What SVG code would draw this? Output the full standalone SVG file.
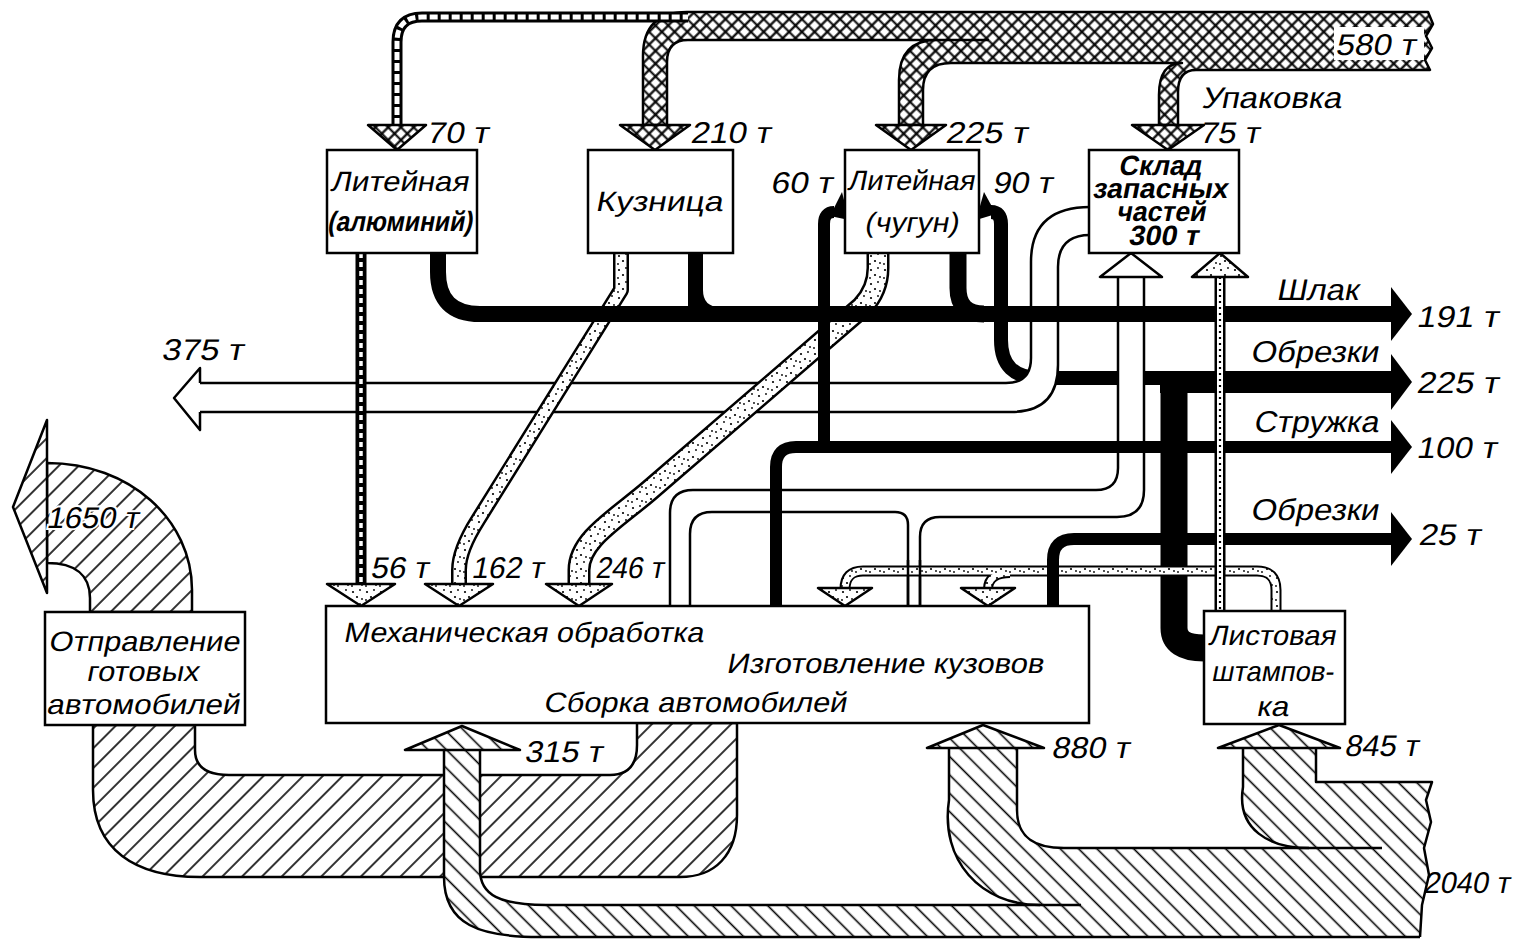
<svg xmlns="http://www.w3.org/2000/svg" width="1524" height="941" viewBox="0 0 1524 941">
<defs>
<pattern id="xh" width="9" height="9" patternUnits="userSpaceOnUse" patternTransform="rotate(45)">
<rect width="9" height="9" fill="#fff"/>
<path d="M0,4.5H9M4.5,0V9" stroke="#000" stroke-width="2.2"/>
</pattern>
<pattern id="hb" width="13" height="13" patternUnits="userSpaceOnUse" patternTransform="rotate(-45)">
<rect width="13" height="13" fill="#fff"/>
<path d="M6.5,0V13" stroke="#000" stroke-width="1.6"/>
</pattern>
<pattern id="hf" width="14" height="14" patternUnits="userSpaceOnUse" patternTransform="rotate(45)">
<rect width="14" height="14" fill="#fff"/>
<path d="M7,0V14" stroke="#000" stroke-width="1.6"/>
</pattern>
<pattern id="st" width="14" height="14" patternUnits="userSpaceOnUse">
<rect width="14" height="14" fill="#fff"/>
<circle cx="3" cy="4" r="1.1"/><circle cx="10" cy="2" r="0.9"/><circle cx="7" cy="9" r="1.1"/><circle cx="12" cy="11" r="0.9"/><circle cx="2" cy="12" r="0.9"/>
</pattern>
<style>
.ol{fill:none;stroke:#000;stroke-width:2.5;stroke-linejoin:round}
.bk{fill:none;stroke:#000;stroke-linecap:butt}
.wd{fill:none;stroke:#fff;stroke-linecap:butt}
.box{fill:#fff;stroke:#000;stroke-width:2.5}
.xh{fill:url(#xh);stroke:#000;stroke-width:2.5;stroke-linejoin:round}
.hb{fill:url(#hb);stroke:#000;stroke-width:2.5;stroke-linejoin:round}
.hf{fill:url(#hf);stroke:#000;stroke-width:2.5;stroke-linejoin:round}
.sth{fill:url(#st);stroke:#000;stroke-width:2.5;stroke-linejoin:round}
.wh{fill:#fff;stroke:#000;stroke-width:2.5;stroke-linejoin:round}
.stp{fill:none;stroke:url(#st)}
.t,.b{font-family:"Liberation Sans",Arial,sans-serif;fill:#000;transform:skewX(-11deg);transform-box:fill-box;transform-origin:50% 50%}
.t{font-size:30px}
.b{font-size:28px}
</style>
</defs>
<rect width="1524" height="941" fill="#fff"/>

<g id="connectors">
<!-- top packaging band 580 t -->
<path class="xh" d="M643,125 L643,56 Q643,12 687,12 L1428,12 L1433,24 L1426,36 L1432,48 L1425,60 L1430,70 L1196,70 Q1178,70 1178,92 L1178,125 L1159,125 L1159,95 Q1159,63 1182,63 L951,63 Q923,63 923,90 L923,125 L899,125 L899,80 Q899,40 937,40 L688,40 Q667,40 667,62 L667,125 Z"/>
<path class="ol" d="M937,40 H989"/>
<path class="bk" d="M397,126 V42 Q397,17 422,17 H688" stroke-width="11"/>
<path class="wd" d="M397,126 V42 Q397,17 422,17 H688" stroke-width="5" stroke-dasharray="8 3"/>
<polygon class="xh" points="368,125 426,125 397,150"/>
<polygon class="xh" points="620,125 690,125 655,150"/>
<polygon class="xh" points="876,125 946,125 911,150"/>
<polygon class="xh" points="1132,125 1204,125 1168,150"/>
<rect x="1334" y="27" width="90" height="33" fill="#fff"/>

<!-- scrap line under white bands, with 90 t return -->
<path class="bk" d="M1168,378 H1040 Q1001,378 1001,340 V224 Q1001,212 991,212" stroke-width="14"/>
<polygon points="976,220 996,214 984,192"/>

<!-- white band 375 t from warehouse -->
<path fill="#fff" d="M1090,207 Q1031,207 1031,262 L1031,358 Q1031,383 1006,383 L200,383 L200,412 L1011,412 Q1058,412 1058,365 L1058,267 Q1058,235 1090,235 Z"/>
<path class="ol" d="M1090,207 Q1031,207 1031,262 L1031,358 Q1031,383 1006,383 L200,383"/>
<path class="ol" d="M1090,235 Q1058,235 1058,267 L1058,365 Q1058,412 1011,412 L200,412"/>
<path class="wh" d="M200,383 L200,368 L174,398 L200,430 L200,412"/>

<!-- white band machining to warehouse -->
<path fill="#fff" d="M670,606 L670,513 Q670,490 693,490 L1096,490 Q1118,490 1118,468 L1118,277 L1144,277 L1144,490 Q1144,517 1117,517 L940,517 Q920,517 920,537 L920,606 L908,606 L908,525 Q908,512 895,512 L712,512 Q690,512 690,534 L690,606 Z"/>
<path class="ol" d="M670,606 L670,513 Q670,490 693,490 L1096,490 Q1118,490 1118,468 L1118,277"/>
<path class="ol" d="M1144,277 L1144,490 Q1144,517 1117,517 L940,517 Q920,517 920,537 L920,606"/>
<path class="ol" d="M908,606 L908,525 Q908,512 895,512 L712,512 Q690,512 690,534 L690,606"/>
<polygon class="wh" points="1100,277 1162,277 1131,253"/>

<!-- dotted part flows to machining -->
<path class="bk" d="M361,253 V585" stroke-width="11"/>
<path class="wd" d="M361,253 V585" stroke-width="3.5" stroke-dasharray="5 4"/>
<polygon class="sth" points="327,584 395,584 361,606"/>
<path class="bk" d="M621,253 V290 L478,520 Q459,550 459,570 V585" stroke-width="16" stroke-linejoin="round"/>
<path class="stp" d="M621,250 V290 L478,520 Q459,550 459,570 V586" stroke-width="11" stroke-linejoin="round"/>
<polygon class="sth" points="425,584 493,584 459,606"/>
<path class="bk" d="M878,253 V268 Q878,290 862,307 L650,490 C615,520 579,540 579,570 V585" stroke-width="23" stroke-linejoin="round"/>
<path class="stp" d="M878,250 V268 Q878,290 862,307 L650,490 C615,520 579,540 579,570 V586" stroke-width="18" stroke-linejoin="round"/>
<polygon class="sth" points="546,584 612,584 579,606"/>

<!-- black waste lines -->
<path class="bk" d="M438,253 V272 Q438,314 480,314 H1395" stroke-width="16"/>
<polygon points="1391,287 1412,314 1391,341"/>
<rect x="688" y="252" width="15" height="56"/>
<path d="M703,290 Q703,307 720,307 H703 Z"/>
<path class="bk" d="M958,253 V288 Q958,314 984,314" stroke-width="17"/>
<path class="bk" d="M824,453 V224 Q824,212 834,212" stroke-width="12"/>
<polygon points="830,216 849,220 842,192"/>
<path class="bk" d="M1160,382 H1395" stroke-width="22"/>
<polygon points="1391,354 1412,382 1391,410"/>
<path class="bk" d="M1174,371 V628 Q1174,648 1204,648" stroke-width="27"/>
<path class="bk" d="M776,606 V467 Q776,447 796,447 H1395" stroke-width="12"/>
<polygon points="1391,420 1412,447 1391,474"/>

<!-- dotted stamping flows -->
<path class="bk" d="M1010,573 Q988,573 988,589" stroke-width="10"/>
<path class="bk" d="M1276,611 V590 Q1276,571 1257,571 H863 Q845,571 845,589" stroke-width="11"/>
<path class="stp" d="M1010,573 Q988,573 988,590" stroke-width="6"/>
<path class="stp" d="M1276,613 V590 Q1276,571 1257,571 H863 Q845,571 845,590" stroke-width="7"/>
<polygon class="sth" points="818,588 872,588 845,606"/>
<polygon class="sth" points="961,588 1015,588 988,606"/>
<path class="ol" d="M908,606 V560 M920,606 V560"/>

<path class="bk" d="M1053,606 V560 Q1053,539 1074,539 H1395" stroke-width="12"/>
<polygon points="1391,512 1412,539 1391,566"/>

<path class="bk" d="M1220,277 V611" stroke-width="11"/>
<path class="wd" d="M1220,277 V611" stroke-width="6"/>
<path class="bk" d="M1220,277 V611" stroke-width="2.2" stroke-dasharray="2 4"/>
<polygon class="sth" points="1192,277 1248,277 1220,253"/>

<!-- finished cars 1650 t -->
<path class="hf" d="M637,723 L737,723 L737,815 C737,855 715,877 680,877 L200,877 C135,877 93,850 93,790 L93,725 L195,725 L195,750 C195,768 208,775 229,775 L610,775 C628,775 637,765 637,745 Z"/>
<path class="hf" d="M90,612 L90,598 C90,575 75,563 47,563 L47,463 C130,463 192,520 192,590 L192,612 Z"/>
<polygon class="hf" points="47,420 47,593 13,507"/>

<!-- input 2040 t -->
<path fill="url(#hb)" d="M444,750 L480,750 L480,870 C480,895 500,905 546,905 L1040,905 C980,905 940,860 949,800 L949,748 L1017,748 L1017,810 C1017,838 1035,848 1064,848 L1309,848 C1270,848 1236,830 1243,787 L1243,748 L1316,748 L1316,782 L1432,782 L1426,800 L1431,822 L1424,848 L1429,875 L1422,905 L1420,937 L540,937 C480,937 444,925 444,877 Z"/>
<path class="ol" d="M444,750 V877 C444,925 480,937 540,937 H1420"/>
<path class="ol" d="M480,750 V870 C480,895 500,905 546,905 H1081"/>
<path class="ol" d="M949,748 V800 C940,860 980,905 1040,905"/>
<path class="ol" d="M1017,748 V810 C1017,838 1035,848 1064,848 H1382"/>
<path class="ol" d="M1243,748 V787 C1236,830 1270,848 1309,848"/>
<path class="ol" d="M1316,748 V782 H1432 L1426,800 L1431,822 L1424,848 L1429,875 L1422,905 L1420,937"/>
<polygon class="hb" points="405,750 520,750 462,726"/>
<polygon class="hb" points="927,748 1044,748 983,725"/>
<polygon class="hb" points="1218,748 1340,748 1279,725"/>

<!-- flow labels -->
<text class="t" x="1337" y="55" textLength="80" lengthAdjust="spacingAndGlyphs" font-size="28">580 т</text>
<text class="t" x="1203" y="108" textLength="140" lengthAdjust="spacingAndGlyphs">Упаковка</text>
<text class="t" x="1201" y="143" textLength="60" lengthAdjust="spacingAndGlyphs">75 т</text>
<text class="t" x="428" y="143" textLength="62" lengthAdjust="spacingAndGlyphs">70 т</text>
<text class="t" x="692" y="143" textLength="80" lengthAdjust="spacingAndGlyphs">210 т</text>
<text class="t" x="947" y="143" textLength="82" lengthAdjust="spacingAndGlyphs">225 т</text>
<text class="t" x="772" y="193" textLength="62" lengthAdjust="spacingAndGlyphs">60 т</text>
<text class="t" x="994" y="193" textLength="60" lengthAdjust="spacingAndGlyphs">90 т</text>
<text class="t" x="1278" y="300" textLength="82" lengthAdjust="spacingAndGlyphs">Шлак</text>
<text class="t" x="1418" y="327" textLength="82" lengthAdjust="spacingAndGlyphs">191 т</text>
<text class="t" x="163" y="360" textLength="82" lengthAdjust="spacingAndGlyphs">375 т</text>
<text class="t" x="1252" y="362" textLength="128" lengthAdjust="spacingAndGlyphs">Обрезки</text>
<text class="t" x="1418" y="393" textLength="82" lengthAdjust="spacingAndGlyphs">225 т</text>
<text class="t" x="1255" y="432" textLength="125" lengthAdjust="spacingAndGlyphs">Стружка</text>
<text class="t" x="1418" y="458" textLength="80" lengthAdjust="spacingAndGlyphs">100 т</text>
<text class="t" x="1252" y="520" textLength="128" lengthAdjust="spacingAndGlyphs">Обрезки</text>
<text class="t" x="1420" y="545" textLength="62" lengthAdjust="spacingAndGlyphs">25 т</text>
<text class="t" x="372" y="578" textLength="58" lengthAdjust="spacingAndGlyphs">56 т</text>
<text class="t" x="473" y="578" textLength="72" lengthAdjust="spacingAndGlyphs">162 т</text>
<text class="t" x="597" y="578" textLength="68" lengthAdjust="spacingAndGlyphs">246 т</text>
<text class="t" x="48" y="528" textLength="92" lengthAdjust="spacingAndGlyphs" font-size="27" stroke="#fff" stroke-width="4" paint-order="stroke">1650 т</text>
<text class="t" x="526" y="762" textLength="78" lengthAdjust="spacingAndGlyphs">315 т</text>
<text class="t" x="1053" y="758" textLength="78" lengthAdjust="spacingAndGlyphs">880 т</text>
<text class="t" x="1346" y="756" textLength="74" lengthAdjust="spacingAndGlyphs">845 т</text>
<text class="t" x="1425" y="893" textLength="86" lengthAdjust="spacingAndGlyphs">2040 т</text>
</g>

<g id="n-alu">
<rect class="box" x="327" y="150" width="150" height="103"/>
<text class="b" x="332" y="191" textLength="138" lengthAdjust="spacingAndGlyphs" font-size="27">Литейная</text>
<text class="b" x="329" y="231" textLength="145" lengthAdjust="spacingAndGlyphs" font-size="26" font-weight="bold">(алюминий)</text>
</g>
<g id="n-kuz">
<rect class="box" x="588" y="150" width="145" height="103"/>
<text class="b" x="597" y="211" textLength="127" lengthAdjust="spacingAndGlyphs" font-size="31">Кузница</text>
</g>
<g id="n-chug">
<rect class="box" x="845" y="150" width="134" height="103"/>
<text class="b" x="849" y="190" textLength="127" lengthAdjust="spacingAndGlyphs" font-size="26">Литейная</text>
<text class="b" x="866" y="232" textLength="94" lengthAdjust="spacingAndGlyphs">(чугун)</text>
</g>
<g id="n-sklad">
<rect class="box" x="1089" y="150" width="150" height="103"/>
<text class="b" x="1120" y="175" textLength="83" lengthAdjust="spacingAndGlyphs" font-size="19" font-weight="bold">Склад</text>
<text class="b" x="1094" y="198" textLength="135" lengthAdjust="spacingAndGlyphs" font-size="19" font-weight="bold">запасных</text>
<text class="b" x="1118" y="221" textLength="89" lengthAdjust="spacingAndGlyphs" font-size="19" font-weight="bold">частей</text>
<text class="b" x="1130" y="245" textLength="70" lengthAdjust="spacingAndGlyphs" font-size="19" font-weight="bold">300 т</text>
</g>
<g id="n-main">
<rect class="box" x="326" y="606" width="763" height="117"/>
<text class="b" x="345" y="642" textLength="360" lengthAdjust="spacingAndGlyphs">Механическая обработка</text>
<text class="b" x="728" y="673" textLength="317" lengthAdjust="spacingAndGlyphs">Изготовление кузовов</text>
<text class="b" x="545" y="712" textLength="303" lengthAdjust="spacingAndGlyphs">Сборка автомобилей</text>
</g>
<g id="n-otpr">
<rect class="box" x="45" y="612" width="200" height="113"/>
<text class="b" x="50" y="651" textLength="191" lengthAdjust="spacingAndGlyphs">Отправление</text>
<text class="b" x="88" y="681" textLength="112" lengthAdjust="spacingAndGlyphs">готовых</text>
<text class="b" x="48" y="714" textLength="193" lengthAdjust="spacingAndGlyphs">автомобилей</text>
</g>
<g id="n-list">
<rect class="box" x="1204" y="611" width="141" height="113"/>
<text class="b" x="1210" y="645" textLength="127" lengthAdjust="spacingAndGlyphs" font-size="25">Листовая</text>
<text class="b" x="1213" y="681" textLength="122" lengthAdjust="spacingAndGlyphs" font-size="25">штампов-</text>
<text class="b" x="1258" y="716" textLength="32" lengthAdjust="spacingAndGlyphs" font-size="25">ка</text>
</g>
</svg>
